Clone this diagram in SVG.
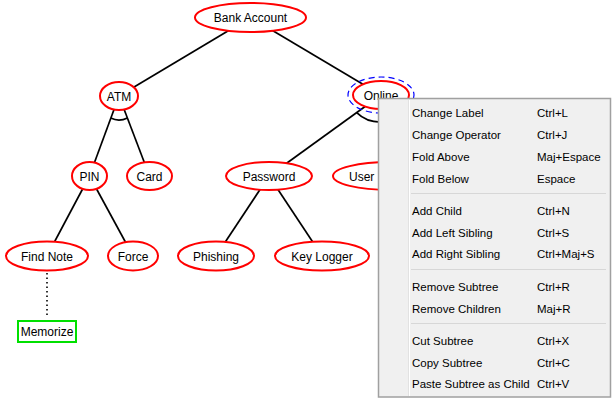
<svg xmlns="http://www.w3.org/2000/svg" width="616" height="404" viewBox="0 0 616 404">
<style>
.n ellipse{fill:#fff;stroke:#ff0000;stroke-width:2}
.t{font-family:"Liberation Sans",Arial,sans-serif;font-size:12px;fill:#000;text-anchor:middle}
.e line,.e path{stroke:#000;stroke-width:1.7;fill:none}
.m{font-family:"Liberation Sans",Arial,sans-serif;font-size:11.5px;fill:#000}
.sep{stroke:#d7d7d7;stroke-width:1}
</style>
<rect width="616" height="404" fill="#fff"/>
<g id="connectors" class="e">
<line x1="250.5" y1="17.5" x2="119" y2="96"/>
<line x1="250.5" y1="17.5" x2="381" y2="95"/>
<line x1="119" y1="96" x2="89.5" y2="176"/>
<line x1="119" y1="96" x2="149.5" y2="176"/>
<path d="M110.8,118.1 A21,24 0 0 0 127.4,117.9"/>
<line x1="381" y1="95" x2="269" y2="176"/>
<line x1="381" y1="95" x2="390" y2="176"/>
<path d="M356.7,112.6 A32,27 0 0 0 384,121.9"/>
<line x1="89.5" y1="176" x2="47" y2="256"/>
<line x1="89.5" y1="176" x2="133" y2="256"/>
<line x1="269" y1="176" x2="216" y2="256"/>
<line x1="269" y1="176" x2="322" y2="256"/>
<line x1="47" y1="273" x2="47" y2="318" stroke-dasharray="1.5,3" style="stroke-width:1.6"/>
</g>
<g id="node-bank" class="n"><ellipse cx="250.5" cy="17.5" rx="55.5" ry="14.5"/><text class="t" x="250.5" y="22">Bank Account</text></g>
<g id="node-atm" class="n"><ellipse cx="119" cy="96" rx="19" ry="14"/><text class="t" x="119" y="100.5">ATM</text></g>
<g id="node-online" class="n"><ellipse cx="381" cy="95" rx="28" ry="14"/><text class="t" x="381" y="99.5">Online</text>
<ellipse cx="381" cy="95" rx="33" ry="18" style="fill:none;stroke:#0000ff;stroke-width:1.2;stroke-dasharray:6,4"/></g>
<g id="node-pin" class="n"><ellipse cx="89.5" cy="176" rx="17.5" ry="14"/><text class="t" x="89.5" y="180.5">PIN</text></g>
<g id="node-card" class="n"><ellipse cx="149.5" cy="176" rx="22.5" ry="14"/><text class="t" x="149.5" y="180.5">Card</text></g>
<g id="node-password" class="n"><ellipse cx="269" cy="176" rx="43" ry="14"/><text class="t" x="269" y="180.5">Password</text></g>
<g id="node-user" class="n"><ellipse cx="390" cy="176" rx="57" ry="14"/><text class="t" x="349" y="180.5" style="text-anchor:start">User</text></g>
<g id="node-findnote" class="n"><ellipse cx="47" cy="256" rx="41" ry="14.5"/><text class="t" x="47" y="260.5">Find Note</text></g>
<g id="node-force" class="n"><ellipse cx="133" cy="256" rx="25" ry="14.5"/><text class="t" x="133" y="260.5">Force</text></g>
<g id="node-phishing" class="n"><ellipse cx="216" cy="256" rx="38" ry="14.5"/><text class="t" x="216" y="260.5">Phishing</text></g>
<g id="node-keylogger" class="n"><ellipse cx="322" cy="256" rx="47" ry="14.5"/><text class="t" x="322" y="260.5">Key Logger</text></g>
<g id="node-memorize"><rect x="18" y="321" width="58" height="21" fill="#fff" stroke="#00e000" stroke-width="2"/><text class="t" x="47" y="336">Memorize</text></g>
<g id="context-menu">
<rect x="378.5" y="98.5" width="232" height="298.5" fill="#f0f0f0" stroke="#a0a0a0" stroke-width="1.5"/>
<line x1="408.5" y1="100" x2="408.5" y2="396" stroke="#e2e2e2"/>
<line x1="409.5" y1="100" x2="409.5" y2="396" stroke="#fff"/>
<line class="sep" x1="411" y1="193.5" x2="606" y2="193.5"/>
<line class="sep" x1="411" y1="269.5" x2="606" y2="269.5"/>
<line class="sep" x1="411" y1="323.5" x2="606" y2="323.5"/>
<g class="m">
<text x="412" y="117">Change Label</text><text x="537" y="117">Ctrl+L</text>
<text x="412" y="139">Change Operator</text><text x="537" y="139">Ctrl+J</text>
<text x="412" y="161">Fold Above</text><text x="537" y="161">Maj+Espace</text>
<text x="412" y="183">Fold Below</text><text x="537" y="183">Espace</text>
<text x="412" y="215">Add Child</text><text x="537" y="215">Ctrl+N</text>
<text x="412" y="237">Add Left Sibling</text><text x="537" y="237">Ctrl+S</text>
<text x="412" y="258">Add Right Sibling</text><text x="537" y="258">Ctrl+Maj+S</text>
<text x="412" y="291">Remove Subtree</text><text x="537" y="291">Ctrl+R</text>
<text x="412" y="313">Remove Children</text><text x="537" y="313">Maj+R</text>
<text x="412" y="345">Cut Subtree</text><text x="537" y="345">Ctrl+X</text>
<text x="412" y="367">Copy Subtree</text><text x="537" y="367">Ctrl+C</text>
<text x="412" y="388">Paste Subtree as Child</text><text x="537" y="388">Ctrl+V</text>
</g>
</g>
</svg>
